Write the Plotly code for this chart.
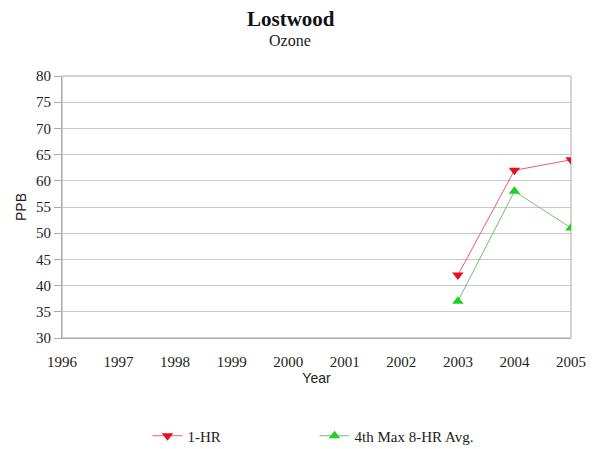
import plotly.graph_objects as go

years = [2003, 2004, 2005]
one_hr = [42, 62, 64]
fourth_max_8hr = [37, 58, 51]
x_ticks = list(range(1996, 2006))
y_ticks = list(range(30, 81, 5))

serif = "Liberation Serif, Times New Roman, serif"
sans = "Liberation Sans, Arial, sans-serif"

fig = go.Figure()
fig.add_trace(go.Scatter(
    x=years, y=one_hr, name="1-HR", mode="lines+markers",
    line=dict(color="#e06070", width=1),
    marker=dict(symbol="triangle-down", size=10, color="#e8101c"),
))
fig.add_trace(go.Scatter(
    x=years, y=fourth_max_8hr, name="4th Max 8-HR Avg.", mode="lines+markers",
    line=dict(color="#70c070", width=1),
    marker=dict(symbol="triangle-up", size=10, color="#20d020"),
))

# page body adds an 8px offset, so the figure is drawn 8px smaller
fig.update_layout(
    width=597, height=441,
    margin=dict(l=54, r=34, t=68, b=111, autoexpand=False),
    paper_bgcolor="white", plot_bgcolor="white",
    font=dict(family=serif, size=15, color="#222"),
    xaxis=dict(
        range=[1996, 2005], tickvals=x_ticks, ticktext=[str(v) for v in x_ticks],
        showgrid=False, showline=True, linecolor="#aaa", linewidth=1,
        ticks="outside", ticklen=10, tickcolor="rgba(0,0,0,0)", zeroline=False,
        automargin=False,
        tickfont=dict(family=serif, size=15, color="#222"),
        title=dict(text="Year", font=dict(family=sans, size=14, color="#222"), standoff=2),
    ),
    yaxis=dict(
        range=[30, 80], tickvals=y_ticks,
        showgrid=True, gridcolor="#c8c8c8", gridwidth=1,
        showline=True, linecolor="#aaa", linewidth=1,
        ticks="outside", ticklen=7, tickcolor="#aaa", zeroline=False,
        automargin=False,
        tickfont=dict(family=serif, size=15, color="#222"),
        title=dict(text="PPB", font=dict(family=sans, size=14, color="#222"), standoff=6),
    ),
    legend=dict(
        orientation="h", x=0.168, xanchor="left",
        yref="container", y=0.0295, yanchor="middle",
        font=dict(family=serif, size=15, color="#222"),
        entrywidth=122, entrywidthmode="pixels",
    ),
    showlegend=True,
    annotations=[
        dict(text="<b>Lostwood</b>", xref="paper", yref="paper", x=0.449, y=1.218,
             xanchor="center", yanchor="middle", showarrow=False,
             font=dict(family=serif, size=21, color="#111")),
        dict(text="Ozone", xref="paper", yref="paper", x=0.447, y=1.137,
             xanchor="center", yanchor="middle", showarrow=False,
             font=dict(family=serif, size=16, color="#222")),
    ],
)
# plot-area frame (top and right edges)
fig.add_shape(type="rect", xref="paper", yref="paper", x0=0, y0=0, x1=1, y1=1,
              line=dict(color="#aaa", width=1), layer="below")

fig.write_html("out.html")
